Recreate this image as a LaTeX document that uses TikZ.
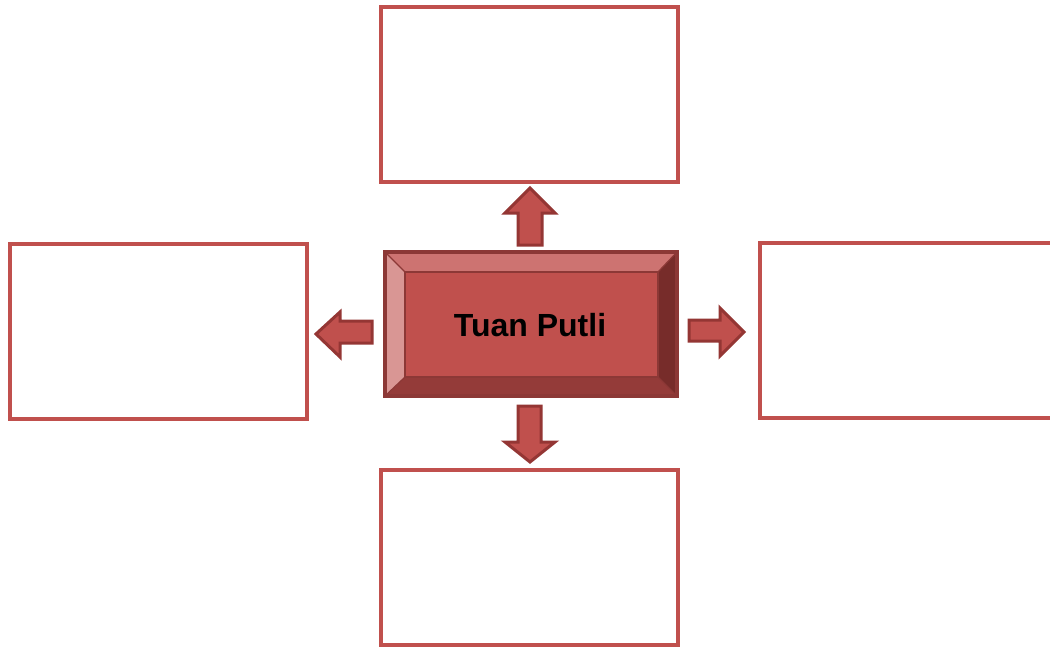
\documentclass[tikz,border=0pt]{standalone}
\usepackage{fontspec}
\setmainfont{Liberation Sans}
\definecolor{red1}{HTML}{C0504D}
\definecolor{dark1}{HTML}{943634}
\definecolor{bord}{HTML}{8C3836}
\definecolor{btop}{HTML}{CD7371}
\definecolor{bleft}{HTML}{D99694}
\definecolor{bright}{HTML}{772C2A}
\definecolor{bbot}{HTML}{943B39}
\tikzset{
  outbox/.style={draw=red1, line width=4pt, fill=white, minimum width=297pt, minimum height=175pt, inner sep=0pt},
  fatarrow/.style={fill=red1, draw=dark1, line width=3pt, line join=miter},
}
\begin{document}
\begin{tikzpicture}[x=1pt,y=-1pt]
\useasboundingbox (0,0) rectangle (1050,649);
% outer boxes
\node[outbox] (top) at (529.5,94.5) {};
\node[outbox] (bottom) at (529.5,557.5) {};
\node[outbox] (left) at (158,331.5) {};
\begin{scope}
\clip (0,0) rectangle (1050,649);
\node[outbox, minimum width=340pt] (right) at (930,330.5) {};
\end{scope}
% central bevel box
\coordinate (o1) at (385,252); \coordinate (o2) at (677,252);
\coordinate (o3) at (677,396); \coordinate (o4) at (385,396);
\coordinate (i1) at (405,272); \coordinate (i2) at (658,272);
\coordinate (i3) at (658,377); \coordinate (i4) at (405,377);
\fill[btop] (o1) -- (o2) -- (i2) -- (i1) -- cycle;
\fill[bright] (o2) -- (o3) -- (i3) -- (i2) -- cycle;
\fill[bbot] (o3) -- (o4) -- (i4) -- (i3) -- cycle;
\fill[bleft] (o4) -- (o1) -- (i1) -- (i4) -- cycle;
\draw[bord, line width=1.2pt] (o1) -- (i1) (o2) -- (i2) (o3) -- (i3) (o4) -- (i4);
\fill[red1] (i1) rectangle (i3);
\draw[bord, line width=1.5pt] (i1) rectangle (i3);
\draw[bord, line width=3.5pt] (o1) rectangle (o3);
\node[font=\bfseries\fontsize{32}{38}\selectfont, inner sep=0pt] (center) at (530,325) {Tuan Putli};
% arrows
\draw[fatarrow] (518,245) -- (518,213) -- (505,213) -- (530,188) -- (555,213) -- (542,213) -- (542,245) -- cycle;
\draw[fatarrow] (518,406) -- (518,442) -- (505,442) -- (530,462) -- (555,442) -- (541,442) -- (541,406) -- cycle;
\draw[fatarrow] (372,321) -- (340,321) -- (340,312) -- (316,334) -- (340,357) -- (340,343) -- (372,343) -- cycle;
\draw[fatarrow] (689,320) -- (720,320) -- (720,308) -- (744,332) -- (720,356) -- (720,341) -- (689,341) -- cycle;
\end{tikzpicture}
\end{document}
